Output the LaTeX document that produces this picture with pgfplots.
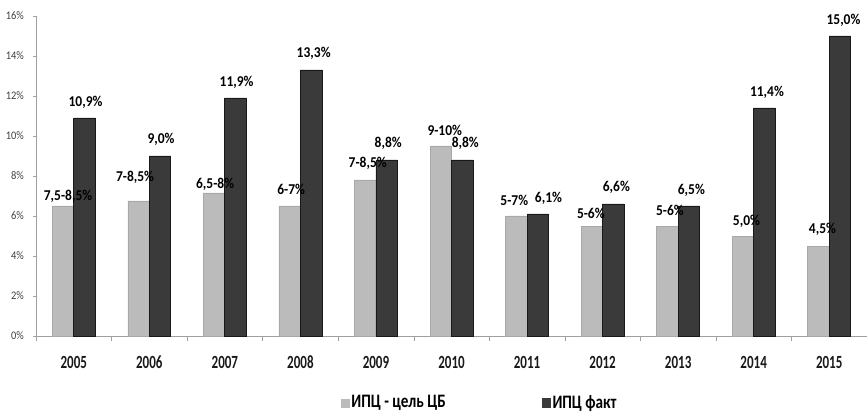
\documentclass[border=0pt]{standalone}
\usepackage{pgfplots}
\pgfplotsset{compat=1.18}
\usepackage{pgfplotstable}
\usepackage{fontspec}
\setmainfont{Carlito}[FakeStretch=0.9]
\newfontfamily\condfont{Carlito}[FakeStretch=0.7]
\newfontfamily\legfont{Carlito}[FakeStretch=0.8]
\definecolor{lightbar}{RGB}{187,187,187}
\definecolor{darkbar}{RGB}{58,58,58}
\definecolor{axgray}{RGB}{160,160,160}

\pgfplotstableread{
x y lab dx dy
0 6.5 7,5-8,5 2.5 5
1 6.75 7-8,5 -1.75 11.85
2 7.15 6,5-8 0.5 4.5
3 6.5 6-7 0.75 8.5
4 7.8 7-8,5 1.25 8.5
5 9.5 9-10 2 8
6 6.0 5-7 -1 8
7 5.5 5-6 -0.5 6.5
8 5.5 5-6 1.25 8
9 5.0 5,0 1.75 7.5
10 4.5 4,5 2 8.5
}\target

\pgfplotstableread{
x y lab dx dy
0 10.9 10,9 0.5 8
1 9.0 9,0 0.5 8.35
2 11.9 11,9 0.5 8
3 13.3 13,3 1.25 8.5
4 8.8 8,8 0.75 8.5
5 8.8 8,8 1.5 8.5
6 6.1 6,1 5.35 8
7 6.6 6,6 1.5 8.5
8 6.5 6,5 1.25 8
9 11.4 11,4 1.25 8
10 15.0 15,0 1.75 8
}\fact

\begin{document}
\begin{tikzpicture}
\useasboundingbox (0,0) rectangle (433.5pt,206pt);
\begin{axis}[
  at={(18pt,38pt)}, anchor=south west,
  scale only axis, width=415.5pt, height=160pt,
  xmin=-0.5, xmax=10.5, ymin=0, ymax=16,
  ybar=0pt, bar width=10.75pt,
  axis lines*=left,
  axis line style={axgray, line width=0.5pt},
  xtick={0,...,10},
  xticklabels={2005,2006,2007,2008,2009,2010,2011,2012,2013,2014,2015},
  major x tick style={draw=none},
  minor xtick={-0.5,0.5,...,10.5},
  minor x tick style={axgray},
  minor tick length=2.5pt,
  ytick={0,2,...,16},
  y tick style={axgray},
  major tick length=1.5pt,
  tick align=outside,
  /pgf/number format/assume math mode=true,
  yticklabel={\pgfmathprintnumber{\tick}\%},
  yticklabel style={font=\fontsize{5.8pt}{6pt}\selectfont, text=black!75, xshift=-1pt},
  xticklabel style={font=\condfont\bfseries\fontsize{9.3pt}{10pt}\selectfont, text=black!90,
    anchor=north, text height=6pt, text depth=0pt, inner sep=0pt, yshift=-8.3pt},
  point meta=explicit symbolic,
  nodes near coords={\pgfplotspointmeta\%},
  visualization depends on={\thisrow{dx} \as \dx},
  visualization depends on={\thisrow{dy} \as \dy},
  nodes near coords style={font=\bfseries\fontsize{7.5pt}{8pt}\selectfont, text=black, anchor=center, xshift=\dx*1pt, yshift=\dy*1pt, inner sep=0pt},
  legend style={at={(0.534,-0.21)}, anchor=center, draw=none, fill=none,
    legend columns=2, font=\legfont\bfseries\fontsize{9.5pt}{10.5pt}\selectfont,
    /tikz/every even column/.append style={column sep=47pt},
    nodes={inner sep=1pt}},
  clip=false,
]
\addplot[fill=lightbar, draw=lightbar!90!black, line width=0.3pt,
  legend image code/.code={\fill[lightbar] (0pt,-2.2pt) rectangle (4pt,2.2pt);}]
  table[x=x, y=y, meta=lab] {\target};
\addlegendentry{ИПЦ - цель ЦБ}
\addplot[fill=darkbar, draw=black!90, line width=0.4pt,
  legend image code/.code={\fill[darkbar] (0pt,-2.2pt) rectangle (4pt,2.2pt);}]
  table[x=x, y=y, meta=lab] {\fact};
\addlegendentry{ИПЦ факт}
\end{axis}
\end{tikzpicture}
\end{document}
